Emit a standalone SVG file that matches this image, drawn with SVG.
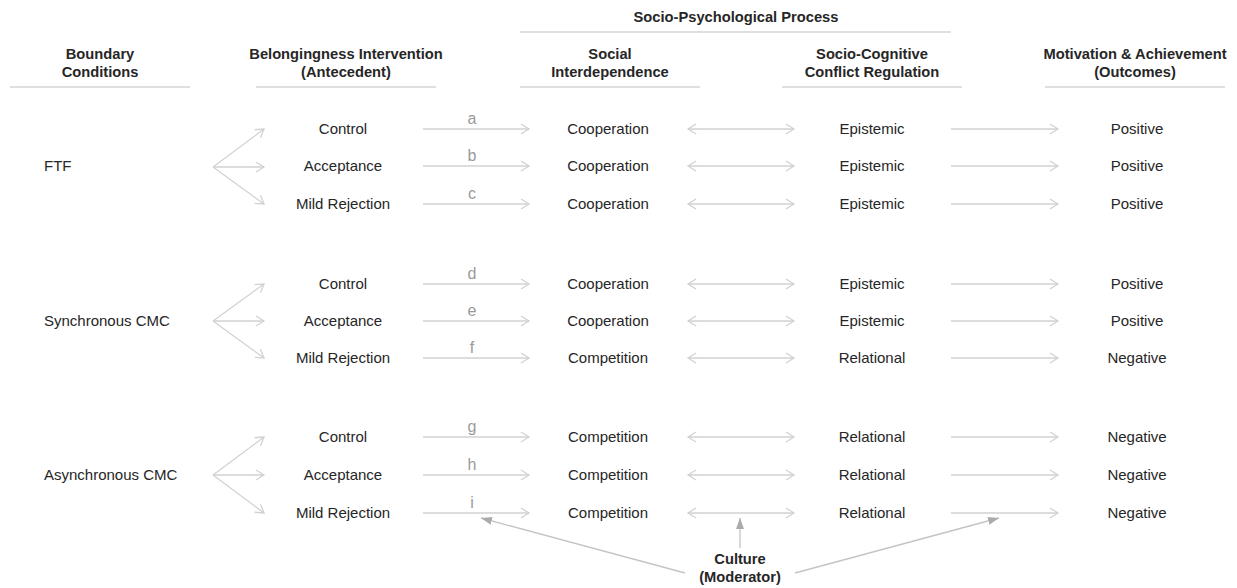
<svg xmlns="http://www.w3.org/2000/svg" width="1237" height="588" viewBox="0 0 1237 588">
<defs>
<style>
.h{font-family:"Liberation Sans",Arial,sans-serif;font-size:14.7px;font-weight:bold;fill:#262626;text-anchor:middle}
.t{font-family:"Liberation Sans",Arial,sans-serif;font-size:15px;fill:#262626;text-anchor:middle}
.tl{font-family:"Liberation Sans",Arial,sans-serif;font-size:15px;fill:#262626}
.lt{font-family:"Liberation Sans",Arial,sans-serif;font-size:16px;fill:#9a9a9a;text-anchor:middle}
.rule{stroke:#d4d4d4;stroke-width:1.3;fill:none}
.c{stroke:#d2d2d2;stroke-width:1.3;fill:none;marker-end:url(#open)}
.d{stroke:#d2d2d2;stroke-width:1.3;fill:none;marker-end:url(#open);marker-start:url(#openS)}
.m{stroke:#c4c4c4;stroke-width:1.3;fill:none;marker-end:url(#fill)}
</style>
<marker id="open" markerWidth="12" markerHeight="12" refX="9" refY="6" orient="auto" markerUnits="userSpaceOnUse">
<path d="M1,1 L9,6 L1,11" fill="none" stroke="#d2d2d2" stroke-width="1.3"/>
</marker>
<marker id="openS" markerWidth="12" markerHeight="12" refX="3" refY="6" orient="auto" markerUnits="userSpaceOnUse">
<path d="M11,1 L3,6 L11,11" fill="none" stroke="#d2d2d2" stroke-width="1.3"/>
</marker>
<marker id="fill" markerWidth="12" markerHeight="10" refX="11" refY="5" orient="auto" markerUnits="userSpaceOnUse">
<path d="M0,1 L11,5 L0,9 Z" fill="#ababab"/>
</marker>
</defs>
<rect width="1237" height="588" fill="#ffffff"/>

<g id="headers">
<text class="h" x="736" y="22">Socio-Psychological Process</text>
<line class="rule" x1="520" y1="32" x2="951" y2="32"/>
<text class="h" x="100" y="59">Boundary</text>
<text class="h" x="100" y="77">Conditions</text>
<line class="rule" x1="10" y1="87" x2="190" y2="87"/>
<text class="h" x="346" y="59">Belongingness Intervention</text>
<text class="h" x="346" y="77">(Antecedent)</text>
<line class="rule" x1="256" y1="87" x2="436" y2="87"/>
<text class="h" x="610" y="59">Social</text>
<text class="h" x="610" y="77">Interdependence</text>
<line class="rule" x1="520" y1="87" x2="700" y2="87"/>
<text class="h" x="872" y="59">Socio-Cognitive</text>
<text class="h" x="872" y="77">Conflict Regulation</text>
<line class="rule" x1="782" y1="87" x2="962" y2="87"/>
<text class="h" x="1135" y="59">Motivation &amp; Achievement</text>
<text class="h" x="1135" y="77">(Outcomes)</text>
<line class="rule" x1="1045" y1="87" x2="1225" y2="87"/>
</g>

<g id="boundary">
<text class="tl" x="44" y="171">FTF</text>
<text class="tl" x="44" y="326">Synchronous CMC</text>
<text class="tl" x="44" y="480">Asynchronous CMC</text>
</g>

<g id="antecedents">
<text class="t" x="343" y="134">Control</text>
<text class="t" x="343" y="171">Acceptance</text>
<text class="t" x="343" y="209">Mild Rejection</text>
<text class="t" x="343" y="289">Control</text>
<text class="t" x="343" y="326">Acceptance</text>
<text class="t" x="343" y="363">Mild Rejection</text>
<text class="t" x="343" y="442">Control</text>
<text class="t" x="343" y="480">Acceptance</text>
<text class="t" x="343" y="518">Mild Rejection</text>
</g>

<g id="interdependence">
<text class="t" x="608" y="134">Cooperation</text>
<text class="t" x="608" y="171">Cooperation</text>
<text class="t" x="608" y="209">Cooperation</text>
<text class="t" x="608" y="289">Cooperation</text>
<text class="t" x="608" y="326">Cooperation</text>
<text class="t" x="608" y="363">Competition</text>
<text class="t" x="608" y="442">Competition</text>
<text class="t" x="608" y="480">Competition</text>
<text class="t" x="608" y="518">Competition</text>
</g>

<g id="regulation">
<text class="t" x="872" y="134">Epistemic</text>
<text class="t" x="872" y="171">Epistemic</text>
<text class="t" x="872" y="209">Epistemic</text>
<text class="t" x="872" y="289">Epistemic</text>
<text class="t" x="872" y="326">Epistemic</text>
<text class="t" x="872" y="363">Relational</text>
<text class="t" x="872" y="442">Relational</text>
<text class="t" x="872" y="480">Relational</text>
<text class="t" x="872" y="518">Relational</text>
</g>

<g id="outcomes">
<text class="t" x="1137" y="134">Positive</text>
<text class="t" x="1137" y="171">Positive</text>
<text class="t" x="1137" y="209">Positive</text>
<text class="t" x="1137" y="289">Positive</text>
<text class="t" x="1137" y="326">Positive</text>
<text class="t" x="1137" y="363">Negative</text>
<text class="t" x="1137" y="442">Negative</text>
<text class="t" x="1137" y="480">Negative</text>
<text class="t" x="1137" y="518">Negative</text>
</g>

<g id="culture">
<text class="h" x="740" y="564">Culture</text>
<text class="h" x="740" y="582">(Moderator)</text>
</g>

<g id="connectors">
<path class="c" d="M213,167 L264,129"/>
<path class="c" d="M213,167 L264,167"/>
<path class="c" d="M213,167 L264,204"/>
<path class="c" d="M213,321 L264,284"/>
<path class="c" d="M213,321 L264,321"/>
<path class="c" d="M213,321 L264,358"/>
<path class="c" d="M213,475 L264,437"/>
<path class="c" d="M213,475 L264,475"/>
<path class="c" d="M213,475 L264,513"/>

<path class="c" d="M423,129 H529"/>
<path class="c" d="M423,166 H529"/>
<path class="c" d="M423,204 H529"/>
<path class="c" d="M423,284 H529"/>
<path class="c" d="M423,321 H529"/>
<path class="c" d="M423,358 H529"/>
<path class="c" d="M423,437 H529"/>
<path class="c" d="M423,475 H529"/>
<path class="c" d="M423,513 H529"/>

<path class="d" d="M688,129 H794"/>
<path class="d" d="M688,166 H794"/>
<path class="d" d="M688,204 H794"/>
<path class="d" d="M688,284 H794"/>
<path class="d" d="M688,321 H794"/>
<path class="d" d="M688,358 H794"/>
<path class="d" d="M688,437 H794"/>
<path class="d" d="M688,475 H794"/>
<path class="d" d="M688,513 H794"/>

<path class="c" d="M951,129 H1058"/>
<path class="c" d="M951,166 H1058"/>
<path class="c" d="M951,204 H1058"/>
<path class="c" d="M951,284 H1058"/>
<path class="c" d="M951,321 H1058"/>
<path class="c" d="M951,358 H1058"/>
<path class="c" d="M951,437 H1058"/>
<path class="c" d="M951,475 H1058"/>
<path class="c" d="M951,513 H1058"/>

<text class="lt" x="472" y="124">a</text>
<text class="lt" x="472" y="161">b</text>
<text class="lt" x="472" y="199">c</text>
<text class="lt" x="472" y="279">d</text>
<text class="lt" x="472" y="316">e</text>
<text class="lt" x="472" y="353">f</text>
<text class="lt" x="472" y="432">g</text>
<text class="lt" x="472" y="470">h</text>
<text class="lt" x="472" y="508">i</text>

<path class="m" d="M685,573 L481,518"/>
<path class="m" d="M740,548 V518"/>
<path class="m" d="M795,573 L999,518"/>
</g>
</svg>
